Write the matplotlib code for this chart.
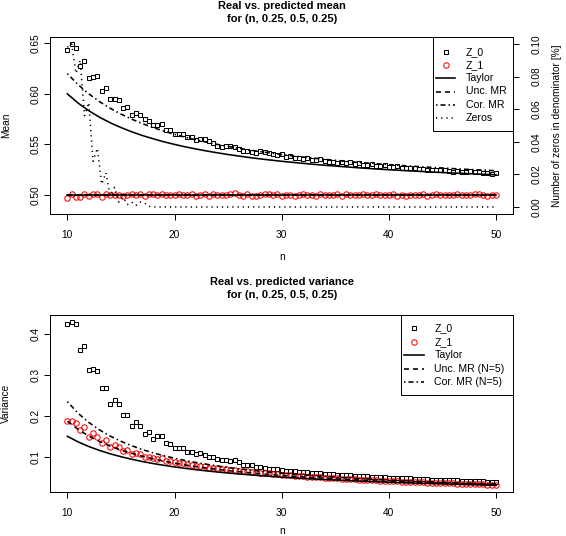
import matplotlib
matplotlib.use('Agg')
import matplotlib.pyplot as plt
from matplotlib.patches import Rectangle
from matplotlib.lines import Line2D

plt.rcParams['font.family'] = ['Liberation Sans', 'DejaVu Sans']
plt.rcParams['lines.scale_dashes'] = False

# ---------------- data ----------------
n_sim = [10.0, 10.4, 10.8, 11.2, 11.6, 12.0, 12.4, 12.8, 13.2, 13.6,
         14.0, 14.4, 14.8, 15.2, 15.6, 16.0, 16.4, 16.8, 17.2, 17.6,
         18.0, 18.4, 18.8, 19.2, 19.6, 20.0, 20.4, 20.8, 21.2, 21.6,
         22.0, 22.4, 22.8, 23.2, 23.6, 24.0, 24.4, 24.8, 25.2, 25.6,
         26.0, 26.4, 26.8, 27.2, 27.6, 28.0, 28.4, 28.8, 29.2, 29.6,
         30.0, 30.4, 30.8, 31.2, 31.6, 32.0, 32.4, 32.8, 33.2, 33.6,
         34.0, 34.4, 34.8, 35.2, 35.6, 36.0, 36.4, 36.8, 37.2, 37.6,
         38.0, 38.4, 38.8, 39.2, 39.6, 40.0, 40.4, 40.8, 41.2, 41.6,
         42.0, 42.4, 42.8, 43.2, 43.6, 44.0, 44.4, 44.8, 45.2, 45.6,
         46.0, 46.4, 46.8, 47.2, 47.6, 48.0, 48.4, 48.8, 49.2, 49.6,
         50.0]

mean_z0 = [.6434, .6496, .6450, .6280, .6320, .6154, .6170, .6175, .6030, .6055,
           .5949, .5952, .5939, .5860, .5870, .5788, .5808, .5786, .5754, .5728,
           .5692, .5692, .5700, .5642, .5642, .5603, .5606, .5606, .5577, .5570,
           .5544, .5558, .5550, .5535, .5518, .5487, .5470, .5487, .5484, .5470,
           .5455, .5438, .5431, .5428, .5418, .5438, .5425, .5411, .5402, .5392,
           .5402, .5379, .5385, .5370, .5362, .5355, .5368, .5350, .5345, .5352,
           .5338, .5330, .5325, .5318, .5328, .5315, .5322, .5305, .5312, .5300,
           .5298, .5302, .5290, .5285, .5292, .5280, .5278, .5284, .5265, .5270,
           .5268, .5262, .5255, .5258, .5248, .5252, .5245, .5250, .5243, .5238,
           .5232, .5240, .5230, .5228, .5233, .5225, .5228, .5220, .5222, .5212,
           .5214]

mean_z1 = [.4975, .5012, .4985, .4983, .5012, .4992, .5008, .5007, .4980, .5010,
           .4998, .4995, .5004, .4988, .5000, .5006, .4997, .5011, .4994, .5005,
           .5009, .5003, .5006, .4998, .5004, .5002, .5007, .5001, .4996, .5005,
           .4993, .5003, .5008, .4990, .5010, .5002, .4995, .4998, .5008, .5016,
           .5004, .4990, .5006, .4987, .4993, .5004, .5010, .5009, .4998, .5006,
           .4990, .5004, .4996, .4991, .5000, .5011, .4997, .5003, .4988, .5005,
           .4999, .4995, .5001, .5007, .4992, .5010, .5003, .4998, .5004, .5009,
           .5000, .4996, .5008, .5002, .4997, .5003, .5006, .4992, .5001, .4989,
           .4998, .5004, .5000, .5007, .4994, .5002, .5006, .4999, .4995, .5004,
           .5001, .5008, .4997, .5003, .5000, .5010, .5005, .4999, .4993, .5002,
           .4998]

zeros_pct = [.098, .100, .082, .090, .056, .064, .028, .036, .014, .021,
             .007, .012, .003, .006, .0015, .003, .001, .003, .0025, .0005,
             0.0, 0.0, 0.0, 0.0, 0.0, 0.0, 0.0, 0.0, 0.0, 0.0,
             0.0, 0.0, 0.0, 0.0, 0.0, 0.0, 0.0, 0.0, 0.0, 0.0,
             0.0, 0.0, 0.0, 0.0, 0.0, 0.0, 0.0, 0.0, 0.0, 0.0,
             0.0, 0.0, 0.0, 0.0, 0.0, 0.0, 0.0, 0.0, 0.0, 0.0,
             0.0, 0.0, 0.0, 0.0, 0.0, 0.0, 0.0, 0.0, 0.0, 0.0,
             0.0, 0.0, 0.0, 0.0, 0.0, 0.0, 0.0, 0.0, 0.0, 0.0,
             0.0, 0.0, 0.0, 0.0, 0.0, 0.0, 0.0, 0.0, 0.0, 0.0,
             0.0, 0.0, 0.0, 0.0, 0.0, 0.0, 0.0, 0.0, 0.0, 0.0,
             0.0]

var_z0 = [.425, .431, .426, .3615, .371, .3125, .3157, .311, .269, .2695,
          .2284, .239, .2284, .2015, .2015, .176, .1843, .176, .1564, .1598,
          .1441, .150, .150, .1330, .1300, .1206, .1206, .1206, .1123, .1123,
          .1066, .1100, .1042, .0985, .0985, .0936, .0915, .0915, .0895, .0920,
          .0860, .0800, .0800, .0790, .0750, .0745, .0730, .0710, .0705, .0690,
          .0680, .0660, .0655, .0645, .0630, .0625, .0620, .0610, .0600, .0595,
          .0580, .0575, .0570, .0560, .0555, .0555, .0545, .0535, .0530, .0525,
          .0520, .0510, .0505, .0500, .0495, .0490, .0487, .0480, .0475, .0470,
          .0468, .0460, .0458, .0450, .0446, .0440, .0438, .0432, .0428, .0425,
          .0420, .0418, .0412, .0408, .0405, .0402, .0398, .0396, .0392, .0390,
          .0387]

var_z1 = [.188, .188, .182, .1655, .172, .149, .157, .149, .1343, .141,
          .1245, .1287, .1245, .1147, .117, .1066, .108, .1075, .100, .0995,
          .096, .095, .0966, .0895, .0885, .0860, .0850, .0840, .0815, .0805,
          .0775, .0780, .0760, .0730, .0735, .0715, .0700, .0705, .0680, .0670,
          .0660, .0645, .0640, .0625, .0615, .0610, .0600, .0590, .0580, .0575,
          .0560, .0550, .0548, .0535, .0530, .0520, .0512, .0508, .0500, .0495,
          .0485, .0478, .0472, .0468, .0460, .0455, .0450, .0442, .0438, .0432,
          .0428, .0422, .0418, .0412, .0408, .0402, .0398, .0395, .0390, .0386,
          .0382, .0378, .0372, .0370, .0365, .0362, .0358, .0355, .0350, .0348,
          .0344, .0340, .0337, .0334, .0330, .0328, .0325, .0322, .0318, .0315,
          .0306]

n_pred = [10, 11, 12, 13, 14, 15, 16, 17, 18, 19, 20, 21, 22, 23, 24, 25, 26, 27,
          28, 29, 30, 31, 32, 33, 34, 35, 36, 37, 38, 39, 40, 41, 42, 43, 44, 45,
          46, 47, 48, 49, 50]

taylor_mean = [.6000, .5909, .5833, .5769, .5714, .5667, .5625, .5588, .5556, .5526,
               .5500, .5476, .5455, .5435, .5417, .5400, .5385, .5370, .5357, .5345,
               .5333, .5323, .5313, .5303, .5294, .5286, .5278, .5270, .5263, .5256,
               .5250, .5244, .5238, .5233, .5227, .5222, .5217, .5213, .5208, .5204,
               .5200]
mr_mean = [.6200, .6091, .6000, .5923, .5857, .5800, .5750, .5706, .5667, .5632,
           .5600, .5571, .5545, .5522, .5500, .5480, .5462, .5444, .5429, .5414,
           .5400, .5387, .5375, .5364, .5353, .5343, .5333, .5324, .5316, .5308,
           .5300, .5293, .5286, .5279, .5273, .5267, .5261, .5255, .5250, .5245,
           .5240]
z1_pred_mean = [.5, .5, .5, .5, .5, .5, .5, .5, .5, .5, .5, .5, .5, .5, .5, .5, .5,
                .5, .5, .5, .5, .5, .5, .5, .5, .5, .5, .5, .5, .5, .5, .5, .5, .5,
                .5, .5, .5, .5, .5, .5, .5]

taylor_var = [.1500, .1364, .1250, .1154, .1071, .1000, .0938, .0882, .0833, .0789,
              .0750, .0714, .0682, .0652, .0625, .0600, .0577, .0556, .0536, .0517,
              .0500, .0484, .0469, .0455, .0441, .0429, .0417, .0405, .0395, .0385,
              .0375, .0366, .0357, .0349, .0341, .0333, .0326, .0319, .0313, .0306,
              .0300]
unc_var = [.1870, .1670, .1507, .1373, .1260, .1164, .1083, .1010, .0947, .0892,
           .0843, .0798, .0758, .0722, .0689, .0659, .0632, .0607, .0583, .0561,
           .0541, .0523, .0505, .0489, .0473, .0459, .0446, .0432, .0421, .0409,
           .0398, .0388, .0378, .0369, .0360, .0351, .0343, .0336, .0329, .0321,
           .0315]
cor_var = [.2350, .2066, .1840, .1657, .1505, .1378, .1270, .1176, .1095, .1024,
           .0963, .0907, .0858, .0813, .0773, .0736, .0703, .0673, .0644, .0618,
           .0594, .0572, .0552, .0533, .0515, .0498, .0483, .0467, .0454, .0441,
           .0428, .0417, .0405, .0395, .0385, .0375, .0366, .0357, .0350, .0341,
           .0334]

mean_ticks = [0.50, 0.55, 0.60, 0.65]
zero_ticks = [0.00, 0.02, 0.04, 0.06, 0.08, 0.10]
var_ticks = [0.1, 0.2, 0.3, 0.4]
n_ticks = [10, 20, 30, 40, 50]

# ---------------- styles ----------------
W, H = 566, 536
PT = 0.72  # points per pixel at dpi 100
SOLID = '-'
DASHED = (0, (5 * PT, 4 * PT))
DASHDOT = (0, (1.5 * PT, 3 * PT, 5 * PT, 3 * PT))
DOTTED = (0, (1.2 * PT, 4 * PT))
LW = 1.6 * PT
FS = 7.3
LFS = 7.6
TFS = 8.0

fig = plt.figure(figsize=(W / 100, H / 100), dpi=100)


def px_axes(l, t, r, b):
    return fig.add_axes([l / W, 1 - b / H, (r - l) / W, (b - t) / H])


def fx(x):
    return x / W


def fy(y):
    return 1 - y / H


L, R = 50.2, 513.2
T1, B1 = 37.4, 213.5
T2, B2 = 315.0, 492.0

ax1 = px_axes(L, T1, R, B1)
ax3 = px_axes(L, T2, R, B2)


def style_axes(ax):
    for s in ax.spines.values():
        s.set_linewidth(1.0 * PT)
        s.set_color('black')
    ax.tick_params(length=6 * PT, width=1.0 * PT, labelsize=FS, color='black')
    ax.tick_params(axis='x', pad=10.5 * PT)
    ax.tick_params(axis='y', pad=3.9 * PT)
    ax.set_xlim(8.4, 51.6)
    ax.set_xticks(n_ticks)
    ax.set_xticklabels([str(t) for t in n_ticks])


sq = dict(marker='s', ms=3.5, mfc='none', mec='black', mew=0.75, ls='none')
ci = dict(marker='o', ms=3.9, mfc='none', mec='#ff0000', mew=0.75, ls='none')

# ---------- top panel ----------
style_axes(ax1)
ax1.plot(n_sim, mean_z0, **sq)
ax1.plot(n_sim, mean_z1, **ci)
ax1.plot(n_pred, taylor_mean, color='black', lw=LW, ls=SOLID)
ax1.plot(n_pred, mr_mean, color='black', lw=LW, ls=DASHDOT)
ax1.plot(n_pred, z1_pred_mean, color='black', lw=LW, ls=SOLID)
ax1.plot(n_pred, z1_pred_mean, color='black', lw=LW, ls=DASHED)
ax1.set_ylim(0.4817, 0.6558)
ax1.set_yticks(mean_ticks)
ax1.set_yticklabels(['0.50', '0.55', '0.60', '0.65'])
for lab in ax1.get_yticklabels():
    lab.set_rotation(90)
    lab.set_va('center')

ax2 = ax1.twinx()
style_axes(ax2)
ax2.plot(n_sim, zeros_pct, color='black', lw=LW, ls=DOTTED)
ax2.set_ylim(-0.004, 0.104)
ax2.set_yticks(zero_ticks)
ax2.set_yticklabels(['0.00', '0.02', '0.04', '0.06', '0.08', '0.10'])
ax2.tick_params(axis='y', pad=12.0 * PT)
for lab in ax2.get_yticklabels():
    lab.set_rotation(90)
    lab.set_va('center')

# ---------- bottom panel ----------
style_axes(ax3)
ax3.plot(n_sim, var_z0, **sq)
ax3.plot(n_sim, var_z1, **ci)
ax3.plot(n_pred, taylor_var, color='black', lw=LW, ls=SOLID)
ax3.plot(n_pred, unc_var, color='black', lw=LW, ls=DASHED)
ax3.plot(n_pred, cor_var, color='black', lw=LW, ls=DASHDOT)
ax3.set_ylim(0.0135, 0.4473)
ax3.set_yticks(var_ticks)
ax3.set_yticklabels(['0.1', '0.2', '0.3', '0.4'])
for lab in ax3.get_yticklabels():
    lab.set_rotation(90)
    lab.set_va('center')

# ---------- titles and axis labels ----------
cx = (L + R) / 2
fig.text(fx(cx), fy(5.8), 'Real vs. predicted mean', ha='center', va='center',
         fontsize=TFS, fontweight='bold')
fig.text(fx(cx), fy(18.6), 'for (n, 0.25, 0.5, 0.25)', ha='center', va='center',
         fontsize=TFS, fontweight='bold')
fig.text(fx(cx), fy(282.0), 'Real vs. predicted variance', ha='center', va='center',
         fontsize=TFS, fontweight='bold')
fig.text(fx(cx), fy(295.0), 'for (n, 0.25, 0.5, 0.25)', ha='center', va='center',
         fontsize=TFS, fontweight='bold')
fig.text(fx(cx), fy(257.5), 'n', ha='center', va='center', fontsize=FS)
fig.text(fx(cx), fy(531.0), 'n', ha='center', va='center', fontsize=FS)
fig.text(fx(6.0), fy((T1 + B1) / 2), 'Mean', ha='center', va='center',
         rotation=90, fontsize=FS)
fig.text(fx(6.0), fy((T2 + B2) / 2), 'Variance', ha='center', va='center',
         rotation=90, fontsize=FS)
fig.text(fx(557.5), fy((T1 + B1) / 2), 'Number of zeros in denominator [%]',
         ha='center', va='center', rotation=90, fontsize=FS)


# ---------- legends ----------
def legend(ax, left, top, right, bottom, rows, entries):
    ax.add_patch(Rectangle((fx(left), fy(bottom)), fx(right) - fx(left),
                           fy(top) - fy(bottom), transform=fig.transFigure,
                           facecolor='white', edgecolor='black',
                           lw=1.0 * PT, zorder=20, clip_on=False))
    for y, (label, kind, style) in zip(rows, entries):
        if kind == 'marker':
            ax.add_line(Line2D([fx(left + 13)], [fy(y)], transform=fig.transFigure,
                               zorder=21, clip_on=False, **style))
        else:
            ax.add_line(Line2D([fx(left + 3), fx(left + 23)], [fy(y), fy(y)],
                               transform=fig.transFigure, color='black', lw=LW,
                               ls=style, zorder=21, clip_on=False))
        ax.text(fx(left + 33.5), fy(y), label, transform=fig.transFigure,
                ha='left', va='center', fontsize=LFS, zorder=22)


legend(ax2, 432.5, T1, R, 130.5,
       [51.7, 65.0, 78.3, 91.5, 104.8, 118.2],
       [('Z_0', 'marker', sq), ('Z_1', 'marker', ci), ('Taylor', 'line', SOLID),
        ('Unc. MR', 'line', DASHED), ('Cor. MR', 'line', DASHDOT),
        ('Zeros', 'line', DOTTED)])
legend(ax3, 401.0, T2, R, 395.0,
       [328.3, 341.7, 355.0, 368.5, 382.0],
       [('Z_0', 'marker', sq), ('Z_1', 'marker', ci), ('Taylor', 'line', SOLID),
        ('Unc. MR (N=5)', 'line', DASHED), ('Cor. MR (N=5)', 'line', DASHDOT)])

fig.savefig('out.png', dpi=100)
